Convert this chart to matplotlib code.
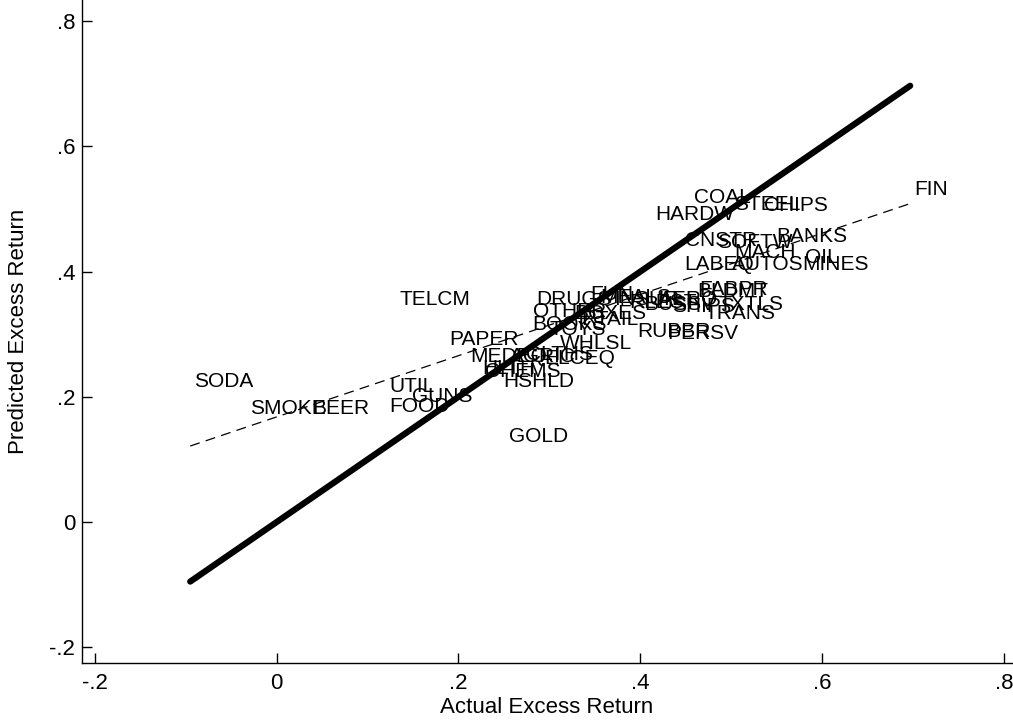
import numpy as np
import matplotlib
matplotlib.use("Agg")
import matplotlib.pyplot as plt

plt.rcParams['font.family'] = ['Liberation Sans', 'DejaVu Sans']

# industry labels with actual / predicted excess returns
industries = ["FIN", "SODA", "SMOKE", "BEER", "UTIL", "FOOD", "GUNS", "GOLD",
              "HSHLD", "TELCM", "PAPER", "MEDEQ", "HLTH", "CHEMS", "AGRIC",
              "CLTHS", "ELCEQ", "DRUGS", "OTHER", "BOOKS", "TOYS", "WHLSL",
              "RTAIL", "BOXES", "FUN", "MEALS", "INSUR", "RLEST", "BUSSV",
              "AERO", "SHIPS", "TRANS", "TXTLS", "FABPR", "BLDMT", "RUBBR",
              "PERSV", "COAL", "STEEL", "CHIPS", "HARDW", "CNSTR", "SOFTW",
              "BANKS", "MACH", "LABEQ", "AUTOS", "OIL", "MINES"]
actual = [0.697, -0.095, -0.034, 0.035, 0.119, 0.119, 0.144, 0.251,
          0.245, 0.131, 0.185, 0.209, 0.222, 0.225, 0.252,
          0.270, 0.290, 0.281, 0.277, 0.277, 0.296, 0.307,
          0.331, 0.323, 0.340, 0.351, 0.367, 0.383, 0.400,
          0.416, 0.430, 0.466, 0.482, 0.460, 0.458, 0.392,
          0.425, 0.455, 0.499, 0.532, 0.412, 0.445, 0.480,
          0.545, 0.499, 0.444, 0.496, 0.577, 0.574]
predicted = [0.532, 0.225, 0.182, 0.182, 0.216, 0.185, 0.200, 0.136,
             0.224, 0.355, 0.291, 0.264, 0.246, 0.241, 0.264,
             0.267, 0.262, 0.356, 0.337, 0.316, 0.307, 0.286,
             0.323, 0.334, 0.364, 0.358, 0.355, 0.351, 0.348,
             0.355, 0.345, 0.334, 0.348, 0.372, 0.369, 0.305,
             0.302, 0.518, 0.508, 0.506, 0.492, 0.450, 0.446,
             0.457, 0.431, 0.411, 0.412, 0.422, 0.411]

# fitted line of predicted on actual
fit_intercept = 0.168
fit_slope = 0.489

x_ticks = [-0.2, 0, 0.2, 0.4, 0.6, 0.8]
x_tick_labels = ["-.2", "0", ".2", ".4", ".6", ".8"]
y_ticks = [-0.2, 0, 0.2, 0.4, 0.6, 0.8]
y_tick_labels = ["-.2", "0", ".2", ".4", ".6", ".8"]

fig = plt.figure(figsize=(10.13, 7.24), dpi=100)
ax = fig.add_axes([0.081, 0.0843, 0.918, 0.9157])

# labels placed to the right of each point
for name, xv, yv in zip(industries, actual, predicted):
    ax.annotate(name, (xv, yv), xytext=(3, 0), textcoords="offset points",
                ha="left", va="center", fontsize=15, color="black")

xs = np.array([min(actual), max(actual)])
# 45 degree line
ax.plot(xs, xs, color="black", lw=4.5, solid_capstyle="round")
# regression fit
ax.plot(xs, fit_intercept + fit_slope * xs, color="black", lw=0.9,
        linestyle=(0, (8, 5)))

ax.set_xlim(-0.214, 0.809)
ax.set_ylim(-0.225, 0.834)
ax.set_xticks(x_ticks)
ax.set_xticklabels(x_tick_labels)
ax.set_yticks(y_ticks)
ax.set_yticklabels(y_tick_labels)
ax.tick_params(axis="both", labelsize=16, length=7, width=1, direction="in")
ax.tick_params(axis="x", pad=7)
ax.tick_params(axis="y", pad=5)
ax.set_xlabel("Actual Excess Return", fontsize=16)
ax.set_ylabel("Predicted Excess Return", fontsize=16)
ax.xaxis.set_label_coords(0.5, -0.052)
ax.yaxis.set_label_coords(-0.057, 0.5)

ax.spines["top"].set_visible(False)
ax.spines["right"].set_visible(False)
ax.spines["left"].set_linewidth(1)
ax.spines["bottom"].set_linewidth(1)

fig.savefig("out.png", dpi=100)
